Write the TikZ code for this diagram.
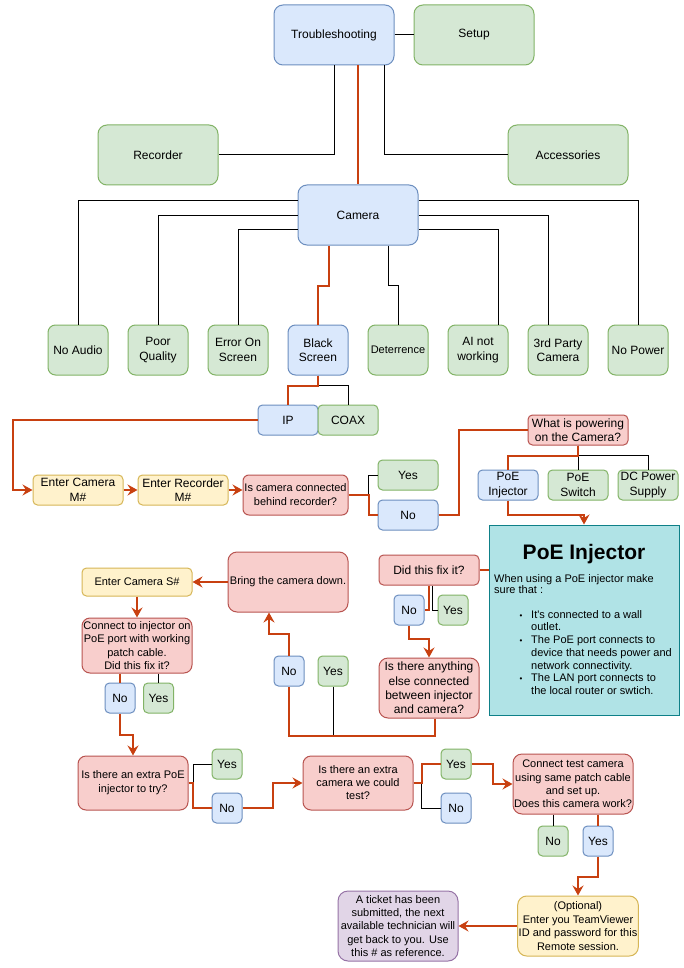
\documentclass[tikz,border=0pt]{standalone}
\usepackage{fontspec}
\setmainfont{Liberation Sans}
\usetikzlibrary{arrows.meta,calc}
\definecolor{bF}{HTML}{DAE8FC}\definecolor{bS}{HTML}{6C8EBF}
\definecolor{gF}{HTML}{D5E8D4}\definecolor{gS}{HTML}{82B366}
\definecolor{yF}{HTML}{FFF2CC}\definecolor{yS}{HTML}{D6B656}
\definecolor{rF}{HTML}{F8CECC}\definecolor{rS}{HTML}{B85450}
\definecolor{pF}{HTML}{E1D5E7}\definecolor{pS}{HTML}{9673A6}
\definecolor{tF}{HTML}{B0E3E6}\definecolor{tS}{HTML}{0E8088}
\definecolor{flow}{RGB}{200,64,16}
\newcommand\ftw{\fontsize{12}{14.4}\selectfont}
\newcommand\fel{\fontsize{11}{13.2}\selectfont}
\tikzset{
 nd/.style={draw, line width=1pt, align=center, inner sep=1pt, font=\ftw, text=black},
 bluebox/.style={nd, fill=bF, draw=bS},
 greenbox/.style={nd, fill=gF, draw=gS},
 yellowbox/.style={nd, fill=yF, draw=yS},
 redbox/.style={nd, fill=rF, draw=rS},
 purplebox/.style={nd, fill=pF, draw=pS},
 tealbox/.style={nd, fill=tF, draw=tS},
 bigsz/.style={minimum width=120pt, minimum height=60pt, rounded corners=9pt},
 sqsz/.style={minimum width=60pt, minimum height=30pt, rounded corners=4.5pt},
 tilesz/.style={minimum width=60pt, minimum height=50pt, rounded corners=7.5pt},
 ynsz/.style={minimum width=30pt, minimum height=30pt, rounded corners=4.5pt},
 link/.style={draw=black, line width=1pt},
 flowl/.style={draw=flow, line width=2pt},
 flowa/.style={flowl, -{Stealth[length=10pt,width=11pt,inset=3.5pt]}},
 txt/.style={anchor=base west, inner sep=0pt, font=\fontsize{11}{13}\selectfont},
 bul/.style={anchor=base, inner sep=0pt, font=\fontsize{8}{8}\selectfont},
}
\begin{document}
\begin{tikzpicture}[x=1pt,y=-1pt]
\useasboundingbox[fill=white] (0,0) rectangle (684,968);
% top
\node[bluebox,bigsz] (ts) at (334,35) {Troubleshooting};
\node[greenbox,bigsz] (setup) at (474,35) {Setup};
\node[greenbox,bigsz] (rec) at (158,155) {Recorder};
\node[greenbox,bigsz] (acc) at (568,155) {Accessories};
\node[bluebox,bigsz] (cam) at (358,215) {Camera};
% tiles
\node[greenbox,tilesz] (na) at (78,350) {No Audio};
\node[greenbox,tilesz] (pq) at (158,350) {Poor\\Quality};
\node[greenbox,tilesz] (eos) at (238,350) {Error On\\Screen};
\node[bluebox,tilesz] (bs) at (318,350) {Black\\Screen};
\node[greenbox,tilesz,font=\fel] (det) at (398,350) {Deterrence};
\node[greenbox,tilesz] (ai) at (478,350) {AI not\\working};
\node[greenbox,tilesz] (tp) at (558,350) {3rd Party\\Camera};
\node[greenbox,tilesz] (np) at (638,350) {No Power};
% IP/COAX
\node[bluebox,sqsz] (ip) at (288,420) {IP};
\node[greenbox,sqsz] (coax) at (348,420) {COAX};
\node[yellowbox,minimum width=90pt,minimum height=30pt,rounded corners=4.5pt] (ecm) at (78,490) {Enter Camera\\M\#};
\node[yellowbox,minimum width=90pt,minimum height=30pt,rounded corners=4.5pt] (erm) at (183,490) {Enter Recorder\\M\#};
\node[redbox,minimum width=105pt,minimum height=40pt,rounded corners=6pt,font=\fontsize{11}{14}\selectfont] (icc) at (295.5,495) {Is camera connected\\behind recorder?};
\node[greenbox,sqsz] (yes1) at (408,475) {Yes};
\node[bluebox,sqsz] (no1) at (408,515) {No};
\node[redbox,minimum width=100pt,minimum height=30pt,rounded corners=4.5pt] (what) at (578,430) {What is powering\\on the Camera?};
\node[bluebox,sqsz] (pinj) at (508,485) {PoE\\Injector};
\node[greenbox,sqsz] (psw) at (578,485) {PoE\\Switch};
\node[greenbox,sqsz] (dc) at (648,485) {DC Power\\Supply};
% PoE box
\node[tealbox,minimum width=190pt,minimum height=190pt] (poe) at (584,620) {};
\node[anchor=base,inner sep=0pt,font=\bfseries\fontsize{21}{25}\selectfont] (poet) at (584,559) {PoE Injector};
\node[txt] (w1) at (494,582) {When using a PoE injector make};
\node[txt] (w2) at (494,593.5) {sure that :};
\node[bul] (b1) at (521,618) {•};
\node[bul] (b2) at (521,643.5) {•};
\node[bul] (b3) at (521,681.5) {•};
\node[txt] (l1) at (531,618) {It\textquotesingle s connected to a wall};
\node[txt] (l2) at (531,630.7) {outlet.};
\node[txt] (l3) at (531,643.5) {The PoE port connects to};
\node[txt] (l4) at (531,656.2) {device that needs power and};
\node[txt] (l5) at (531,669) {network connectivity.};
\node[txt] (l6) at (531,681.5) {The LAN port connects to};
\node[txt] (l7) at (531,694.5) {the local router or swtich.};
% middle
\node[redbox,minimum width=100pt,minimum height=30pt,rounded corners=4.5pt] (did) at (429,570) {Did this fix it?};
\node[bluebox,ynsz] (dno) at (409,610) {No};
\node[greenbox,ynsz] (dyes) at (453,610) {Yes};
\node[redbox,minimum width=100pt,minimum height=60pt,rounded corners=9pt] (any) at (429,688) {Is there anything\\else connected\\between injector\\and camera?};
\node[bluebox,ynsz] (bno) at (289,671) {No};
\node[greenbox,ynsz] (byes) at (333,671) {Yes};
\node[redbox,bigsz,font=\fel] (bring) at (288,582) {Bring the camera down.};
\node[yellowbox,minimum width=110pt,minimum height=28pt,rounded corners=4.5pt,font=\fel] (ecs) at (137,582) {Enter Camera S\#};
\node[redbox,minimum width=110pt,minimum height=55pt,rounded corners=8pt,font=\fontsize{11}{13.3}\selectfont] (inj) at (137,645.5) {Connect to injector on\\PoE port with working\\patch cable.\\Did this fix it?};
\node[bluebox,ynsz] (ino) at (120,698) {No};
\node[greenbox,ynsz] (iyes) at (158.5,698) {Yes};
% bottom
\node[redbox,minimum width=110pt,minimum height=54pt,rounded corners=8pt,font=\fontsize{11}{14}\selectfont] (xpoe) at (133,783) {Is there an extra PoE\\injector to try?};
\node[greenbox,ynsz] (xyes) at (227,764) {Yes};
\node[bluebox,ynsz] (xno) at (227,808) {No};
\node[redbox,minimum width=110pt,minimum height=54pt,rounded corners=8pt,font=\fontsize{11}{13}\selectfont] (xcam) at (358,783) {Is there an extra\\camera we could\\test?};
\node[greenbox,ynsz] (cyes) at (456,764) {Yes};
\node[bluebox,ynsz] (cno) at (456,808) {No};
\node[redbox,bigsz,font=\fel] (tcam) at (573,784) {Connect test camera\\using same patch cable\\and set up.\\Does this camera work?};
\node[greenbox,ynsz] (tno) at (553,841) {No};
\node[bluebox,ynsz] (tyes) at (598,841) {Yes};
\node[yellowbox,bigsz,font=\fontsize{11}{13.5}\selectfont] (opt) at (578,926) {(Optional)\\Enter you TeamViewer\\ID and password for this\\Remote session.};
\node[purplebox,minimum width=120pt,minimum height=70pt,rounded corners=10pt,font=\fel] (tick) at (398,926) {A ticket has been\\submitted, the next\\available technician will\\get back to you. Use\\this \# as reference.};
% connectors
\draw[link] (ts.east) -- (setup.west);
\draw[link] (ts.south) |- (rec.east);
\draw[link] ([xshift=50pt]ts.south) |- (acc.west);
\draw[flowl] ([xshift=24pt]ts.south) -- (cam.north);
\draw[link] ([yshift=14pt]cam.west) -| (na.north);
\draw[link] ([yshift=-1pt]cam.west) -| (pq.north);
\draw[link] ([yshift=-15pt]cam.west) -| (eos.north);
\draw[link] ([yshift=14pt]cam.east) -| (np.north);
\draw[link] ([yshift=-1pt]cam.east) -| ([xshift=-10pt]tp.north);
\draw[link] ([yshift=-15pt]cam.east) -| ([xshift=20pt]ai.north);
\draw[flowl] ([xshift=-29pt]cam.south) -- ++(0,40) -| (bs.north);
\draw[link] ([xshift=30pt]cam.south) -- ++(0,40) -| (det.north);
\draw[link] (bs.south) -- ++(0,10) -| (coax.north);
\draw[flowl] (bs.south) -- ++(0,10) -| (ip.north);
\draw[flowa] (ip.west) -| ([xshift=-20pt]ecm.west) -- (ecm.west);
\draw[flowa] (ecm.east) -- (erm.west);
\draw[flowa] (erm.east) -- (erm.east -| icc.west);
\draw[link] ([xshift=20pt]icc.east) |- (yes1.west);
\draw[flowl] (icc.east) -- ++(20,0) |- (no1.west);
\draw[flowl] (no1.east) -- ++(20,0) |- (what.west);
\draw[link] (what.south) -- (psw.north);
\draw[link] (what.south) -- ++(0,10) -| (dc.north);
\draw[flowl] (what.south) -- ++(0,10) -| (pinj.north);
\draw[flowa] (pinj.south) -- ++(0,14) -| (poe.north);
\draw[flowl] (did.east) -- (did.east -| poe.west);
\draw[link] ([xshift=3pt]did.south) |- (dyes.west);
\draw[flowl] (did.south) |- (dno.east);
\draw[flowa] (dno.south) -- ++(0,13) -| (any.north);
\draw[link] (byes.south) -- ++(0,49);
\draw[flowl] ([xshift=6pt]any.south) -- ++(0,17) -| (bno.south);
\draw[flowa] (bno.north) -- ++(0,-22) -| ([xshift=-19pt]bring.south);
\draw[flowa] (bring.west) -- (ecs.east);
\draw[flowa] (ecs.south) -- (inj.north);
\draw[link] (iyes.north |- inj.south) -- (iyes.north);
\draw[flowl] (ino.north |- inj.south) -- (ino.north);
\draw[flowa] (ino.south) -- ++(0,21) -| (xpoe.north);
\draw[link] ([xshift=5pt]xpoe.east) |- (xyes.west);
\draw[flowl] (xpoe.east) -- ++(4,0) |- (xno.west);
\draw[flowa] (xno.east) -- ++(30,0) |- (xcam.west);
\draw[link] ([xshift=8pt]xcam.east) |- (cno.west);
\draw[flowl] (xcam.east) -- ++(8,0) |- (cyes.west);
\draw[flowa] (cyes.east) -- ++(21,0) |- (tcam.west);
\draw[link] (tno.north |- tcam.south) -- (tno.north);
\draw[flowl] (tyes.north |- tcam.south) -- (tyes.north);
\draw[flowa] (tyes.south) -- ++(0,20) -| (opt.north);
\draw[flowa] (opt.west) -- (tick.east);
\end{tikzpicture}
\end{document}
